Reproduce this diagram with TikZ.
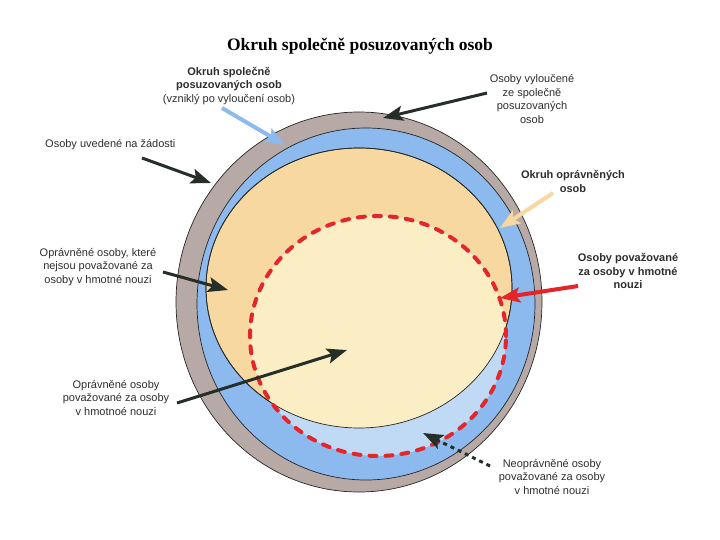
\documentclass[tikz,border=0pt]{standalone}
\usepackage{fontspec}
\setmainfont{Liberation Serif}
\setsansfont{Liberation Sans}
\usetikzlibrary{arrows.meta}
\definecolor{ringGr}{RGB}{183,170,166}
\definecolor{ringBl}{RGB}{140,186,238}
\definecolor{oprTan}{RGB}{247,216,160}
\definecolor{nouzCr}{RGB}{251,238,196}
\definecolor{nouzBl}{RGB}{192,218,246}
\definecolor{nouzRd}{RGB}{228,38,42}
\definecolor{arrDk}{RGB}{38,46,40}
\definecolor{txtGr}{RGB}{45,45,45}

\begin{document}
\begin{tikzpicture}[x=1pt,y=-1pt,font=\sffamily]
  \tikzset{lbl/.style={align=center,text=txtGr,inner sep=0pt,font=\sffamily\fontsize{11}{13.5}\selectfont},
    arr/.style={draw=#1,line width=3pt,-{Stealth[length=20pt,width=15pt,inset=4pt,fill=#1]}}}
  \useasboundingbox (0,0) rectangle (720,540);
  % rings: excluded persons, joint circle, entitled persons
  \filldraw[fill=ringGr,draw=black!85,line width=0.7pt] (359,302) ellipse [x radius=183pt,y radius=190pt];
  \filldraw[fill=ringBl,draw=black!85,line width=0.7pt] (366,304) ellipse [x radius=169pt,y radius=176pt];
  \filldraw[fill=oprTan,draw=black!85,line width=0.7pt] (359,288) ellipse [x radius=153pt,y radius=140pt];
  % persons in material need (inside the red line)
  \fill[nouzBl] (378,336) ellipse [x radius=128pt,y radius=120pt];
  \begin{scope}
    \clip (359,288) ellipse [x radius=153pt,y radius=140pt];
    \fill[nouzCr] (378,336) ellipse [x radius=128pt,y radius=120pt];
  \end{scope}
  \draw[black!85,line width=0.7pt] (359,288) ellipse [x radius=153pt,y radius=140pt];
  \draw[nouzRd,line width=4pt,line cap=round,dash pattern=on 7pt off 9pt] (378,336) ellipse [x radius=128pt,y radius=120pt];

  \node[font=\rmfamily\bfseries\fontsize{17.5}{20}\selectfont,text=black] (title) at (360,46) {Okruh společně posuzovaných osob};
  \node[lbl] (spol) at (229,86) {\textbf{Okruh společně}\\\textbf{posuzovaných osob}\\(vzniklý po vyloučení osob)};
  \node[lbl] (vyl) at (532,99) {Osoby vyloučené\\ze společně\\posuzovaných\\osob};
  \node[lbl,anchor=west] (zad) at (45,145) {Osoby uvedené na žádosti};
  \node[lbl,font=\sffamily\bfseries\fontsize{11}{13.5}\selectfont] (opr) at (573,181.5) {Okruh oprávněných\\osob};
  \node[lbl] (nej) at (98,267) {Oprávněné osoby, které\\nejsou považované za\\osoby v hmotné nouzi};
  \node[lbl,font=\sffamily\bfseries\fontsize{11}{13.5}\selectfont] (nouz) at (628,271) {Osoby považované\\za osoby v hmotné\\nouzi};
  \node[lbl] (povaz) at (116,398) {Oprávněné osoby\\považované za osoby\\v hmotnoé nouzi};
  \node[lbl] (neopr) at (552,477) {Neoprávněné osoby\\považované za osoby\\v hmotné nouzi};

  \coordinate (spolA) at (222,108);  \coordinate (spolB) at (285,145);
  \coordinate (vylA) at (487,93);    \coordinate (vylB) at (383,118);
  \coordinate (zadA) at (142,158);   \coordinate (zadB) at (211,183);
  \coordinate (oprA) at (553,193);   \coordinate (oprB) at (500,228);
  \coordinate (nejA) at (163,272);   \coordinate (nejB) at (228,290);
  \coordinate (nouzA) at (578,286);  \coordinate (nouzB) at (500,298);
  \coordinate (povazA) at (177,403); \coordinate (povazB) at (347,350);
  \coordinate (neoprA) at (490,466); \coordinate (neoprB) at (423,433);

  \draw[arr=ringBl,line width=4pt] (spolA) -- (spolB);
  \draw[arr=arrDk] (vylA) -- (vylB);
  \draw[arr=arrDk] (zadA) -- (zadB);
  \draw[arr=oprTan,line width=4pt] (oprA) -- (oprB);
  \draw[arr=arrDk] (nejA) -- (nejB);
  \draw[arr=nouzRd,line width=4pt] (nouzA) -- (nouzB);
  \draw[arr=arrDk] (povazA) -- (povazB);
  \draw[arr=arrDk,dash pattern=on 4pt off 4pt] (neoprA) -- (neoprB);
\end{tikzpicture}
\end{document}
